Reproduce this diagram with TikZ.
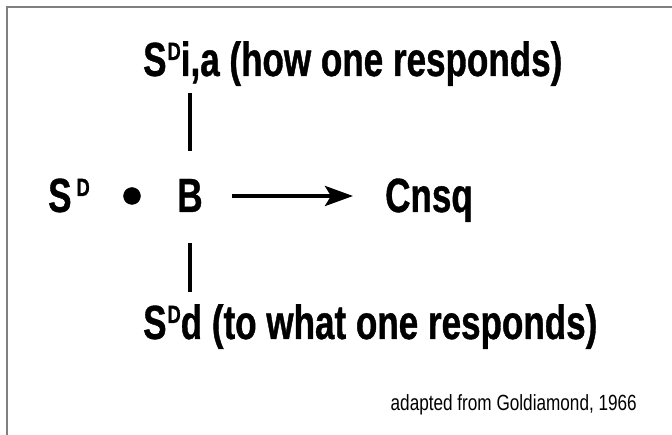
\documentclass[tikz,border=0pt]{standalone}
\usepackage{fontspec}
\setmainfont{Liberation Sans}[FakeStretch=0.73, BoldFeatures={FakeBold=0.8}]
\newfontfamily\credfont{Liberation Sans}[FakeStretch=0.78]
\usetikzlibrary{arrows.meta,positioning}
\newcommand{\sdsup}{\raisebox{16pt}{\fontsize{25}{25}\selectfont D}}

\begin{document}
\begin{tikzpicture}[x=1pt, y=-1pt,
  big/.style = {font=\fontsize{48}{48}\selectfont\bfseries, inner sep=0pt, anchor=base west},
  bar/.style = {line width=4pt}]
\useasboundingbox (0,0) rectangle (672,435);
\draw[gray, line width=2pt] (672,7) -- (7,7) -- (7,435);
\node[big] (sdia) at (143,76) {S\kern1pt\sdsup i,a (how one responds)};
\node[big] (sd) at (48,212) {S\kern5pt\sdsup};
\node[draw, fill, circle, inner sep=0pt, minimum size=17pt] (dot) at (132,196) {};
\node[big, anchor=base] (b) at (190,212) {B};
\node[big] (cnsq) at (385,212) {Cnsq};
\node[big] (sdd) at (143,339) {S\kern1pt\sdsup d (to what one responds)};
\node[font=\credfont\fontsize{22}{22}\selectfont, inner sep=0pt, anchor=base east] (src) at (637,410) {adapted from Goldiamond, 1966};
\draw[bar, shorten <=28pt, shorten >=7pt] (b.north) -- (b.north |- sdia.south);
\draw[bar, shorten <=31pt, shorten >=12pt] (b.south) -- (b.south |- sdd.north);
\draw[bar, -{Stealth[length=28pt, width=20pt, inset=6pt]}, shorten <=29pt, shorten >=32pt] (dot.east -| b.east) -- (dot.east -| cnsq.west);
\end{tikzpicture}
\end{document}
